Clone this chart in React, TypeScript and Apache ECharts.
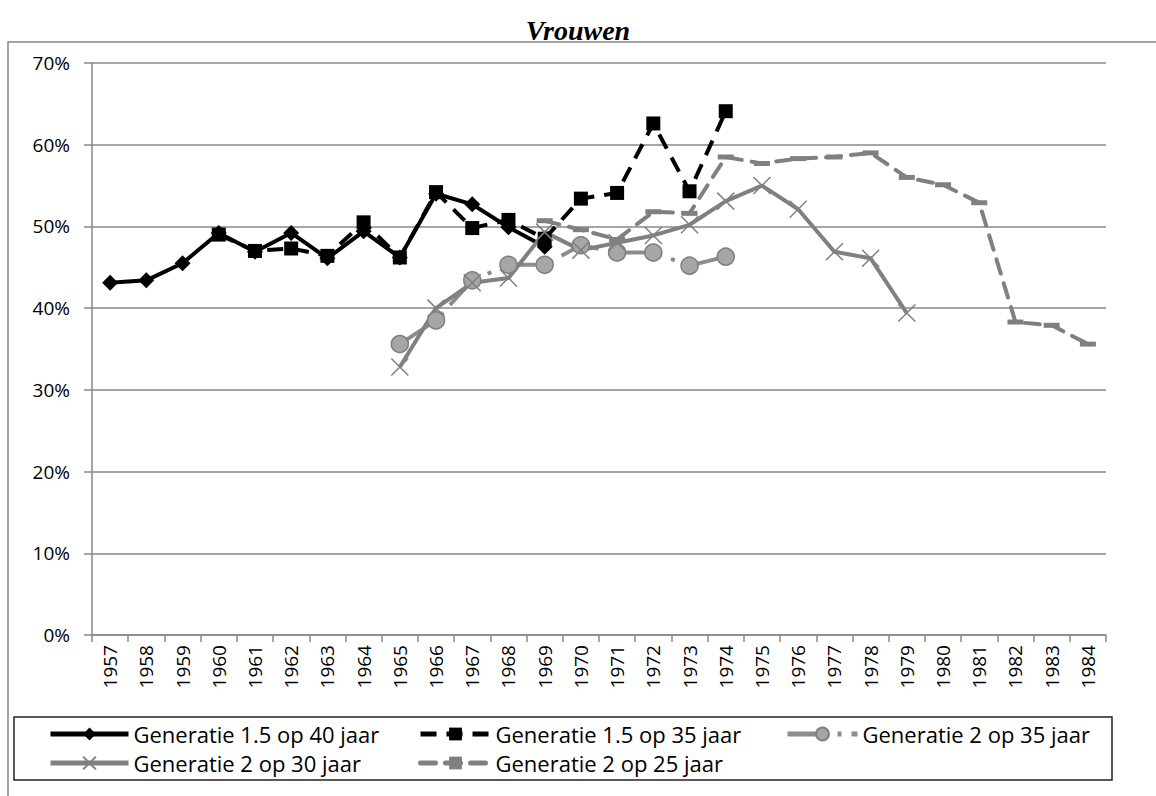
import React, { useEffect, useRef } from "react";
import * as echarts from "echarts";

const years = [
  "1957", "1958", "1959", "1960", "1961", "1962", "1963", "1964", "1965", "1966",
  "1967", "1968", "1969", "1970", "1971", "1972", "1973", "1974", "1975", "1976",
  "1977", "1978", "1979", "1980", "1981", "1982", "1983", "1984",
];

const yTicks = [0, 10, 20, 30, 40, 50, 60, 70];

const gen15op40 = [
  43.1, 43.4, 45.5, 49.2, 46.9, 49.2, 46.1, 49.4, 46.2, 54.0, 52.7, 49.9, 47.5,
  null, null, null, null, null, null, null, null, null, null, null, null, null, null, null,
];

const gen15op35 = [
  null, null, null, 49.0, 47.0, 47.3, 46.4, 50.5, 46.2, 54.2, 49.8, 50.8, 48.5,
  53.4, 54.1, 62.6, 54.3, 64.1,
  null, null, null, null, null, null, null, null, null, null,
];

const gen2op35 = [
  null, null, null, null, null, null, null, null,
  35.6, 38.5, 43.4, 45.3, 45.3, 47.7, 46.8, 46.8, 45.2, 46.3,
  null, null, null, null, null, null, null, null, null, null,
];

const gen2op30 = [
  null, null, null, null, null, null, null, null,
  32.8, 40.0, 43.1, 43.7, 49.3, 47.1, 48.0, 48.9, 50.2, 53.1, 55.0, 52.1, 46.9, 46.1, 39.4,
  null, null, null, null, null,
];

const gen2op25 = [
  null, null, null, null, null, null, null, null, null, null, null, null,
  50.7, 49.6, 48.4, 51.8, 51.6, 58.5, 57.7, 58.3, 58.5, 59.0, 56.0, 55.1, 52.9, 38.3, 37.9, 35.6,
];

const seriesNames = [
  "Generatie 1.5 op 40 jaar",
  "Generatie 1.5 op 35 jaar",
  "Generatie 2 op 35 jaar",
  "Generatie 2 op 30 jaar",
  "Generatie 2 op 25 jaar",
];

const FONT = "'Open Sans', 'Noto Sans', sans-serif";
const GRID = "#888888";
const GRAY = "#808080";

export default function App() {
  const ref = useRef<HTMLDivElement>(null);

  useEffect(() => {
    if (!ref.current) return;
    const chart = echarts.init(ref.current, null, { renderer: "svg" });

    const legendText = { fontFamily: FONT, fontSize: 22, color: "#000" };
    const mkLegend = (name: string, left: number, top: number, w: number) => ({
      data: [name],
      left,
      top,
      itemWidth: w,
      itemHeight: 16,
      itemGap: 0,
      padding: 0,
      textStyle: legendText,
      lineStyle: { width: 5 },
      selectedMode: false,
    });

    chart.setOption({
      animation: false,
      backgroundColor: "#fff",
      title: {
        text: "Vrouwen",
        left: "center",
        top: 11,
        textStyle: {
          fontFamily: "'Liberation Serif', serif",
          fontStyle: "italic",
          fontWeight: "bold",
          fontSize: 28,
          color: "#000",
        },
      },
      graphic: [
        {
          type: "rect",
          shape: { x: 8, y: 42, width: 1160, height: 800 },
          style: { fill: "none", stroke: "#868686", lineWidth: 1.5 },
          silent: true,
          z: -1,
        },
        {
          type: "rect",
          shape: { x: 14, y: 717, width: 1098, height: 63 },
          style: { fill: "none", stroke: "#222", lineWidth: 1.5 },
          silent: true,
        },
      ],
      legend: [
        mkLegend(seriesNames[0], 48, 723, 78),
        mkLegend(seriesNames[1], 418, 723, 70),
        mkLegend(seriesNames[2], 785, 723, 70),
        mkLegend(seriesNames[3], 48, 752, 78),
        mkLegend(seriesNames[4], 418, 752, 70),
      ],
      grid: { left: 92, right: 50, top: 63, bottom: 161, containLabel: false },
      xAxis: {
        type: "category",
        data: years,
        boundaryGap: true,
        axisLine: { lineStyle: { color: GRID, width: 1.5 } },
        axisTick: { show: true, length: 7, lineStyle: { color: GRID, width: 1.5 } },
        axisLabel: {
          rotate: 90,
          interval: 0,
          margin: 10,
          fontFamily: FONT,
          fontSize: 19,
          color: "#000",
        },
      },
      yAxis: {
        type: "value",
        min: 0,
        max: 70,
        interval: 10,
        axisLine: { show: true, lineStyle: { color: GRID, width: 1.5 } },
        axisTick: { show: true, length: 8, lineStyle: { color: GRID, width: 1.5 } },
        splitLine: { show: true, lineStyle: { color: GRID, width: 1.5 } },
        axisLabel: {
          formatter: (v: number) => (yTicks.includes(v) ? v + "%" : ""),
          margin: 22,
          fontFamily: FONT,
          fontSize: 19,
          color: "#000",
        },
      },
      series: [
        {
          name: seriesNames[0],
          type: "line",
          data: gen15op40,
          symbol: "diamond",
          symbolSize: 16,
          lineStyle: { color: "#000", width: 4 },
          itemStyle: { color: "#000" },
        },
        {
          name: seriesNames[1],
          type: "line",
          data: gen15op35,
          symbol: "rect",
          symbolSize: 14,
          lineStyle: { color: "#000", width: 4, type: [16, 10] },
          itemStyle: { color: "#000" },
        },
        {
          name: seriesNames[2],
          type: "line",
          data: gen2op35,
          symbol: "circle",
          symbolSize: 17,
          lineStyle: { color: "#8c8c8c", width: 4, type: [40, 10, 4, 10] },
          itemStyle: { color: "#a6a6a6", borderColor: "#7f7f7f", borderWidth: 1.5 },
        },
        {
          name: seriesNames[3],
          type: "line",
          data: gen2op30,
          symbol: "path://M0,0L10,10M10,0L0,10",
          symbolSize: 17,
          lineStyle: { color: GRAY, width: 4 },
          itemStyle: { color: GRAY, borderColor: GRAY, borderWidth: 1.5 },
        },
        {
          name: seriesNames[4],
          type: "line",
          data: gen2op25,
          symbol: "rect",
          symbolSize: [16, 5],
          lineStyle: { color: GRAY, width: 4, type: [15, 10], cap: "round" },
          itemStyle: { color: GRAY },
        },
      ],
    });

    return () => chart.dispose();
  }, []);

  return (
    <div
      ref={ref}
      style={{ position: "absolute", left: 0, top: 0, width: 1156, height: 796 }}
    />
  );
}
